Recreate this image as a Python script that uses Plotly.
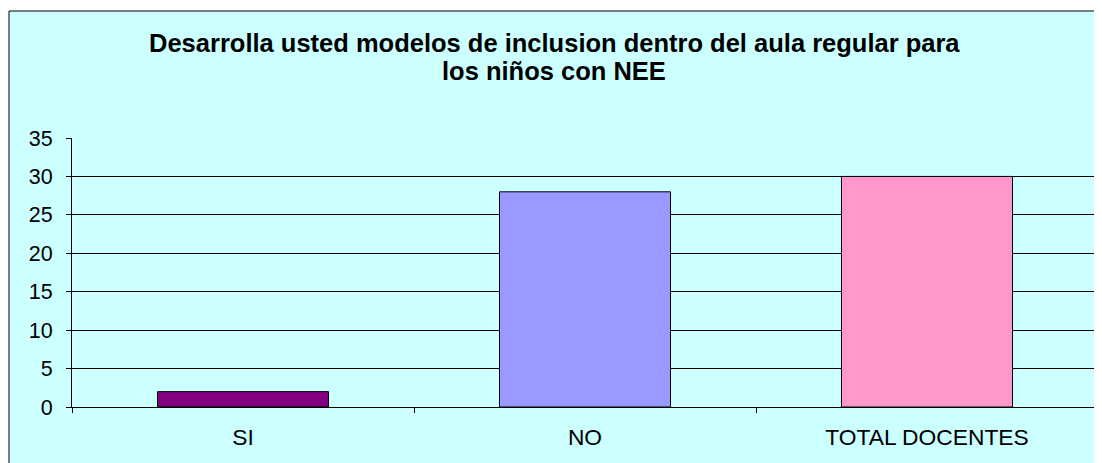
import plotly.graph_objects as go

categories = ["SI", "NO", "TOTAL DOCENTES"]
values = [2, 28, 30]
bar_colors = ["#800080", "#9999FF", "#FF99CC"]
title_lines = ["Desarrolla usted modelos de inclusion dentro del aula regular para",
               "los niños con NEE"]

# page is offset by the 8px body margin
OFF = 8
W, H = 1102 - OFF, 463 - OFF
L, T = 72 - OFF, 138 - OFF
R = W - (1098 - OFF)
B = H - (407 - OFF)
pw, ph = W - L - R, H - T - B

def px_x(p):
    return (p - OFF - L) / pw

def px_y(p):
    return (H - B - (p - OFF)) / ph

FONT = "Liberation Sans, Arial, sans-serif"

fig = go.Figure(go.Bar(
    x=categories, y=values, width=0.5,
    marker=dict(color=bar_colors, line=dict(color="black", width=1)),
))

title_ann = [
    dict(text=title_lines[0], xref="paper", yref="paper", x=px_x(554), y=px_y(43),
         xanchor="center", yanchor="middle", showarrow=False,
         font=dict(family=FONT, size=25.5, color="black", weight="bold")),
    dict(text=title_lines[1], xref="paper", yref="paper", x=px_x(554), y=px_y(71),
         xanchor="center", yanchor="middle", showarrow=False,
         font=dict(family=FONT, size=25.5, color="black", weight="bold")),
]

fig.update_layout(
    width=W, height=H,
    margin=dict(l=L, r=R, t=T, b=B),
    paper_bgcolor="white",
    plot_bgcolor="rgba(0,0,0,0)",
    showlegend=False,
    font=dict(family=FONT, color="black"),
    annotations=title_ann,
    shapes=[dict(type="rect", xref="paper", yref="paper", layer="below",
                 x0=px_x(9), x1=px_x(1120), y0=px_y(480), y1=px_y(11),
                 fillcolor="#CCFFFF", line=dict(color="black", width=1))],
    bargap=0.5,
)

fig.update_xaxes(
    type="category", tickson="boundaries", ticks="outside", ticklen=5,
    tickcolor="black", showline=True, linecolor="black", linewidth=1,
    showgrid=False, tickfont=dict(size=22.8, family=FONT, color="black"),
    ticklabelstandoff=10,
)
fig.update_yaxes(
    range=[0, 35], dtick=5, tick0=0, ticks="outside", ticklen=5,
    tickcolor="black", showline=True, linecolor="black", linewidth=1,
    showgrid=True, gridcolor="black", gridwidth=1, zeroline=False,
    tickfont=dict(size=21.5, family=FONT, color="black"),
    ticklabelstandoff=9,
)

fig.write_html("out.html")
